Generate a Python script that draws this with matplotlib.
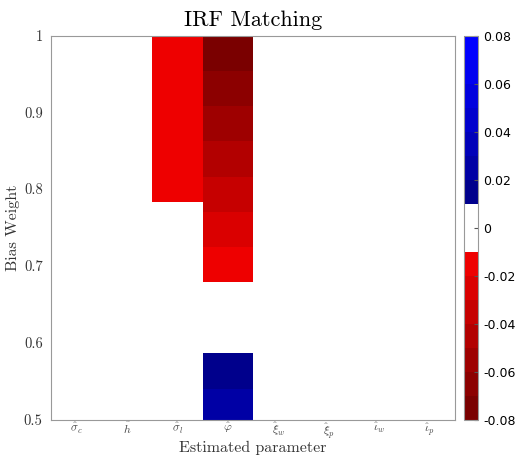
import matplotlib
matplotlib.use("Agg")
import matplotlib.pyplot as plt
import numpy as np
from matplotlib.colors import ListedColormap, Normalize

plt.rcParams['mathtext.fontset'] = 'cm'

# estimated parameters (columns)
params = [r'$\hat{\sigma}_c$', r'$\hat{h}$', r'$\hat{\sigma}_l$', r'$\hat{\varphi}$',
          r'$\hat{\xi}_w$', r'$\hat{\xi}_p$', r'$\hat{\iota}_w$', r'$\hat{\iota}_p$']

# bias weight cell edges (bottom to top)
bias_edges = [0.5, 0.540, 0.587, 0.679, 0.724, 0.770, 0.783, 0.816, 0.862, 0.908, 0.954, 1.0]

# values per row (bottom to top) for the columns that are not zero
sigma_l_vals = [0, 0, 0, 0, 0, 0, -0.015, -0.015, -0.015, -0.015, -0.015]
phi_vals = [0.025, 0.015, 0, -0.015, -0.025, -0.035, -0.035, -0.045, -0.055, -0.065, -0.075]

cbar_ticks = [-0.08, -0.06, -0.04, -0.02, 0, 0.02, 0.04, 0.06, 0.08]
cbar_labels = ['-0.08', '-0.06', '-0.04', '-0.02', '0', '0.02', '0.04', '0.06', '0.08']
ytick_vals = [0.5, 0.6, 0.7, 0.8, 0.9, 1.0]
ytick_labels = ['0.5', '0.6', '0.7', '0.8', '0.9', '1']

# build the matrix
Z = np.zeros((len(bias_edges) - 1, len(params)))
Z[:, 2] = sigma_l_vals
Z[:, 3] = phi_vals

# 16 level map: dark red -> red, white, dark blue -> blue
reds = [(r / 255, 0, 0) for r in [122, 140, 158, 178, 198, 218, 238]]
blues = [(0, 0, b / 255) for b in [140, 165, 185, 205, 222, 240, 255]]
cmap = ListedColormap(reds + [(1, 1, 1), (1, 1, 1)] + blues)
norm = Normalize(vmin=-0.08, vmax=0.08)

fig = plt.figure(figsize=(5.17, 4.59), dpi=100)
ax = fig.add_axes([51 / 517, 1 - 419.5 / 459, 404 / 517, 384 / 459])
cax = fig.add_axes([463.5 / 517, 1 - 420 / 459, 14.5 / 517, 384 / 459])

x_edges = np.arange(len(params) + 1) + 0.5
mesh = ax.pcolormesh(x_edges, bias_edges, Z, cmap=cmap, norm=norm)

ax.set_xlim(0.5, len(params) + 0.5)
ax.set_ylim(0.5, 1.0)
ax.set_xticks(np.arange(1, len(params) + 1))
ax.set_xticklabels(params, fontsize=8.5, color='#444444')
ax.set_yticks(ytick_vals)
ax.set_yticklabels(ytick_labels, fontfamily='cmr10', fontsize=10.5, color='#333333')
ax.tick_params(direction='in', length=0)
ax.tick_params(axis='x', pad=1)
ax.tick_params(axis='y', pad=6)
for s in ax.spines.values():
    s.set_color('#999999')
    s.set_linewidth(0.8)

ax.set_title('IRF Matching', fontfamily='cmr10', fontsize=16, pad=7)
ax.set_xlabel('Estimated parameter', fontfamily='cmr10', fontsize=11.5, color='#333333')
ax.xaxis.set_label_coords(0.5, -0.055)
ax.set_ylabel('Bias Weight', fontfamily='cmr10', fontsize=11.5, labelpad=3, color='#333333')

cb = fig.colorbar(mesh, cax=cax)
cb.set_ticks(cbar_ticks)
cb.set_ticklabels(cbar_labels)
cb.ax.tick_params(direction='in', length=3, labelsize=9, color='#555555', pad=4)
cb.outline.set_edgecolor('#999999')
cb.outline.set_linewidth(0.8)

fig.savefig('out.png', dpi=100)
